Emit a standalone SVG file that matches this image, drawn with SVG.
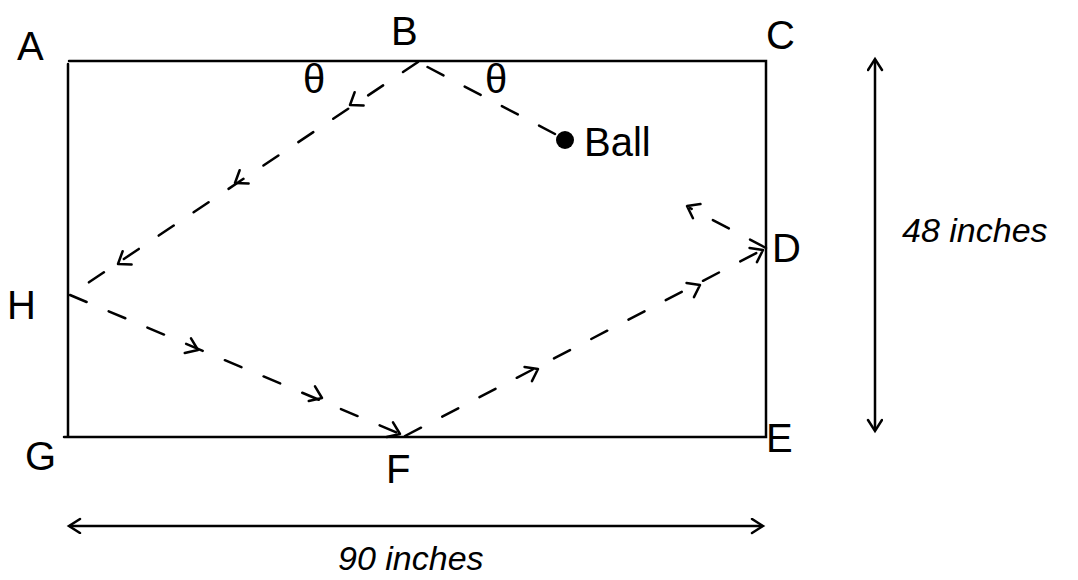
<svg xmlns="http://www.w3.org/2000/svg" width="1078" height="580" viewBox="0 0 1078 580">
<style>
.edge{stroke:#000;stroke-width:2.5;fill:none;stroke-linecap:round}
.dash{stroke:#000;stroke-width:2.5;fill:none;stroke-dasharray:18 24;stroke-linecap:round}
.chev{stroke:#000;stroke-width:2.5;fill:none;stroke-linecap:round;stroke-linejoin:round}
.lbl{font-family:"Liberation Sans",Arial,sans-serif;font-size:40px;fill:#000}
.dim{font-family:"Liberation Sans",Arial,sans-serif;font-size:34px;font-style:italic;fill:#000}
</style>
<defs>
<path id="chv" d="M -11 -8 L 0 0 L -11 8"/>
<marker id="ah" markerWidth="20" markerHeight="20" refX="12" refY="8" orient="auto-start-reverse" markerUnits="userSpaceOnUse">
<path d="M 2 1 L 13 8 L 2 15" fill="none" stroke="#000" stroke-width="2.5" stroke-linecap="round"/>
</marker>
</defs>
<g id="table">
<path class="edge" d="M 69 61 L 766 61 L 766 437 L 64 437 M 68 64 L 68 437"/>
</g>
<g id="labels">
<text id="A" class="lbl" x="17" y="60">A</text>
<text id="B" class="lbl" x="391" y="45">B</text>
<text id="C" class="lbl" x="766" y="49">C</text>
<text id="D" class="lbl" x="772" y="262">D</text>
<text id="E" class="lbl" x="766" y="452">E</text>
<text id="F" class="lbl" x="386" y="483">F</text>
<text id="G" class="lbl" x="25" y="470">G</text>
<text id="H" class="lbl" x="7" y="319">H</text>
<text class="lbl" x="303" y="93" font-size="32">θ</text>
<text class="lbl" x="485" y="93" font-size="32">θ</text>
</g>
<g id="ball">
<circle cx="565" cy="140" r="9" fill="#000"/>
<text class="lbl" x="584" y="156" font-size="32">Ball</text>
</g>
<g id="connectors">
<path class="dash" d="M 555 134 L 418 62"/>
<path class="dash" d="M 418 62 L 70 295"/>
<path class="dash" d="M 70 295 L 405 436"/>
<path class="dash" d="M 405 436 L 766 248"/>
<path class="dash" d="M 766 248 L 690 208"/>
<use href="#chv" class="chev" transform="translate(350,105) rotate(146)"/>
<use href="#chv" class="chev" transform="translate(235,183) rotate(146)"/>
<use href="#chv" class="chev" transform="translate(118,264) rotate(146)"/>
<use href="#chv" class="chev" transform="translate(198,350) rotate(23)"/>
<use href="#chv" class="chev" transform="translate(322,398) rotate(23)"/>
<use href="#chv" class="chev" transform="translate(400,434) rotate(23)"/>
<use href="#chv" class="chev" transform="translate(538,369) rotate(-27.5)"/>
<use href="#chv" class="chev" transform="translate(700,285) rotate(-27.5)"/>
<use href="#chv" class="chev" transform="translate(763,250) rotate(-27.5)"/>
<use href="#chv" class="chev" transform="translate(687,206) rotate(-152)"/>
<line class="edge" x1="875" y1="60" x2="875" y2="430" marker-start="url(#ah)" marker-end="url(#ah)"/>
<line class="edge" x1="70" y1="526" x2="762" y2="526" marker-start="url(#ah)" marker-end="url(#ah)"/>
</g>
<g id="dims">
<text class="dim" x="902" y="242">48 inches</text>
<text class="dim" x="338" y="570">90 inches</text>
</g>
</svg>
